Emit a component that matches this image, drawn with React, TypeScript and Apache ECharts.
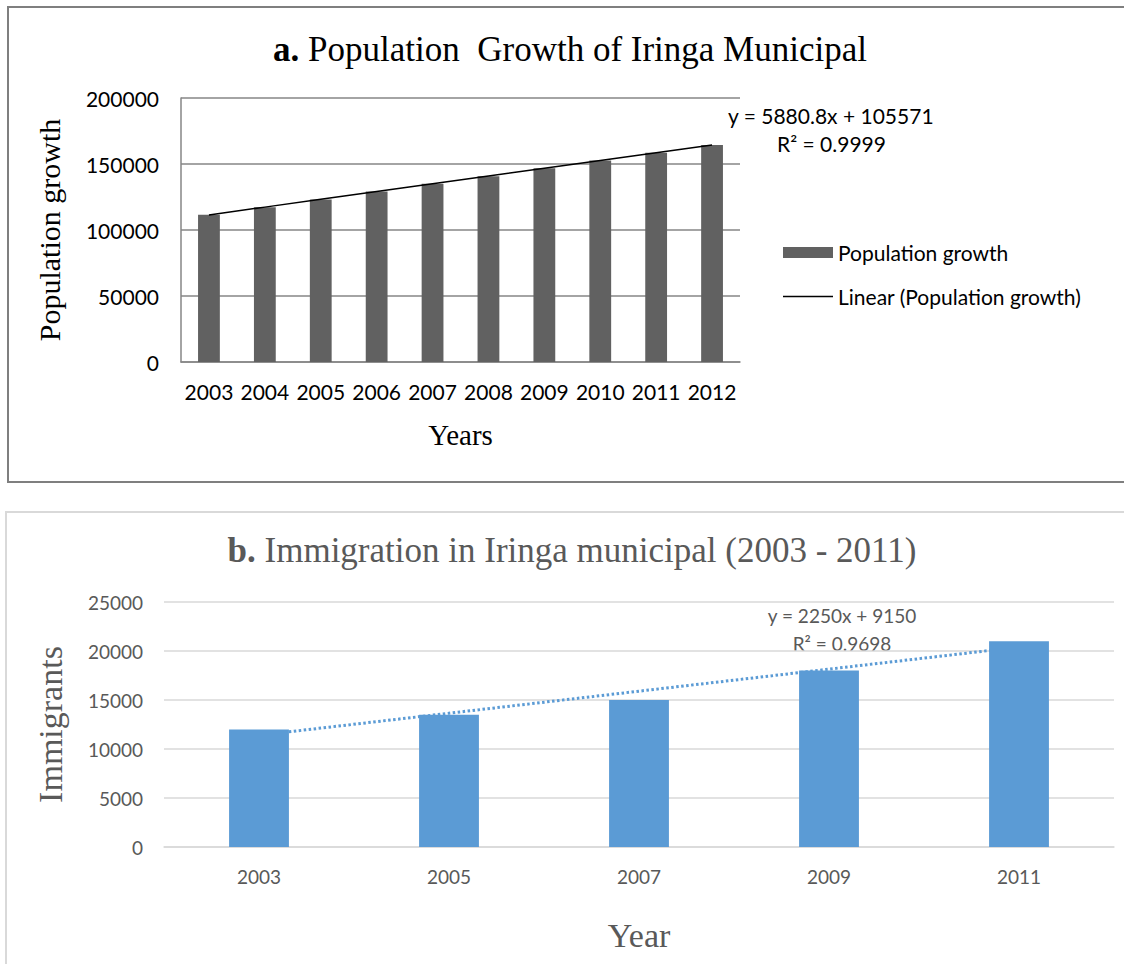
import React, { useEffect, useRef } from "react";
import * as echarts from "echarts";

// Panel a: Population growth of Iringa Municipal
const yearsA = ["2003", "2004", "2005", "2006", "2007", "2008", "2009", "2010", "2011", "2012"];
const populationA = [111500, 117300, 123200, 129100, 135000, 140800, 146700, 152600, 158500, 164400];
const trendA = [111452, 117333, 123213, 129094, 134975, 140856, 146737, 152617, 158498, 164379];
const equationA = ["y = 5880.8x + 105571", "R² = 0.9999"];

// Panel b: Immigration in Iringa municipal
const yearsB = ["2003", "2005", "2007", "2009", "2011"];
const immigrantsB = [12000, 13500, 15000, 18000, 21000];
const trendB = [11400, 13650, 15900, 18150, 20400];
const equationB = ["y = 2250x + 9150", "R² = 0.9698"];

const SANS = "Lato, 'Open Sans', sans-serif";
const SERIF = "'Liberation Serif', 'Times New Roman', serif";
const plain = (v: number) => String(v);

export default function App() {
  const ref = useRef<HTMLDivElement>(null);

  useEffect(() => {
    document.body.style.margin = "0";
    if (!ref.current) return;
    const chart = echarts.init(ref.current, null, { renderer: "svg" });
    const option: any = {
      animation: false,
      backgroundColor: "#ffffff",
      grid: [
        { left: 181, right: 384, top: 98, bottom: 602, containLabel: false },
        { left: 164, right: 10, top: 602, bottom: 117, containLabel: false },
      ],
      legend: {
        data: [
          { name: "Population growth", icon: "rect" },
          { name: "Linear (Population growth)", icon: "path://M0,0 L50,0 L50,1.5 L0,1.5 Z" },
        ],
        orient: "vertical",
        left: 778,
        top: 237,
        itemWidth: 50,
        itemHeight: 11,
        itemGap: 23,
        symbolKeepAspect: true,
        textStyle: { fontFamily: SANS, fontSize: 21, color: "#000" },
        selectedMode: false,
      },
      xAxis: [
        {
          type: "category",
          gridIndex: 0,
          data: yearsA,
          axisLine: { lineStyle: { color: "#868686", width: 1.5 } },
          axisTick: { show: false },
          axisLabel: { interval: 0, fontFamily: SANS, fontSize: 21, color: "#000", margin: 19 },
          name: "Years",
          nameLocation: "middle",
          nameGap: 58,
          nameTextStyle: { fontFamily: SERIF, fontSize: 29, color: "#000" },
        },
        {
          type: "category",
          gridIndex: 1,
          data: yearsB,
          axisLine: { lineStyle: { color: "#d9d9d9", width: 1.5 } },
          axisTick: { show: false },
          axisLabel: { interval: 0, fontFamily: SANS, fontSize: 19, color: "#595959", margin: 20 },
          name: "Year",
          nameLocation: "middle",
          nameGap: 71,
          nameTextStyle: { fontFamily: SERIF, fontSize: 34, color: "#595959" },
        },
      ],
      yAxis: [
        {
          type: "value",
          gridIndex: 0,
          min: 0,
          max: 200000,
          interval: 50000,
          axisLine: { show: true, lineStyle: { color: "#868686", width: 1.5 } },
          axisTick: { show: false },
          splitLine: { lineStyle: { color: "#868686", width: 1.5 } },
          axisLabel: { formatter: plain, fontFamily: SANS, fontSize: 21, color: "#000", margin: 22 },
          name: "Population growth",
          nameLocation: "middle",
          nameRotate: 90,
          nameGap: 117,
          nameTextStyle: { fontFamily: SERIF, fontSize: 30, color: "#000" },
        },
        {
          type: "value",
          gridIndex: 1,
          min: 0,
          max: 25000,
          interval: 5000,
          axisLine: { show: false },
          axisTick: { show: false },
          splitLine: { lineStyle: { color: "#d9d9d9", width: 1.5 } },
          axisLabel: { formatter: plain, fontFamily: SANS, fontSize: 19, color: "#595959", margin: 21 },
          name: "Immigrants",
          nameLocation: "middle",
          nameRotate: 90,
          nameGap: 97,
          nameTextStyle: { fontFamily: SERIF, fontSize: 34, color: "#595959" },
        },
      ],
      series: [
        {
          name: "Population growth",
          type: "bar",
          xAxisIndex: 0,
          yAxisIndex: 0,
          data: populationA,
          barWidth: "39%",
          itemStyle: { color: "#616161" },
          z: 2,
        },
        {
          name: "Linear (Population growth)",
          type: "line",
          xAxisIndex: 0,
          yAxisIndex: 0,
          data: trendA,
          symbol: "none",
          lineStyle: { color: "#000", width: 1.5 },
          itemStyle: { color: "#000" },
          z: 3,
        },
        {
          name: "Immigrants",
          type: "bar",
          xAxisIndex: 1,
          yAxisIndex: 1,
          data: immigrantsB,
          barWidth: "31.5%",
          itemStyle: { color: "#5b9bd5" },
          z: 3,
        },
        {
          name: "Linear (Immigrants)",
          type: "line",
          xAxisIndex: 1,
          yAxisIndex: 1,
          data: trendB,
          symbol: "none",
          lineStyle: { color: "#5b9bd5", width: 3, type: [2.5, 2.5] },
          z: 2,
        },
      ],
      graphic: [
        {
          type: "rect",
          shape: { x: 8, y: 7, width: 1130, height: 475 },
          style: { fill: "none", stroke: "#7f7f7f", lineWidth: 2 },
          silent: true,
        },
        {
          type: "rect",
          shape: { x: 6, y: 512, width: 1130, height: 470 },
          style: { fill: "none", stroke: "#d9d9d9", lineWidth: 2 },
          silent: true,
        },
        {
          type: "text",
          x: 570,
          y: 49,
          style: {
            text: "{b|a.} Population  Growth of Iringa Municipal",
            fontFamily: SERIF,
            fontSize: 35,
            fill: "#000",
            align: "center",
            verticalAlign: "middle",
            rich: { b: { fontFamily: SERIF, fontSize: 35, fontWeight: "bold", fill: "#000" } },
          },
        },
        {
          type: "text",
          x: 572,
          y: 550,
          style: {
            text: "{b|b.} Immigration in Iringa municipal (2003 - 2011)",
            fontFamily: SERIF,
            fontSize: 35,
            fill: "#595959",
            align: "center",
            verticalAlign: "middle",
            rich: { b: { fontFamily: SERIF, fontSize: 35, fontWeight: "bold", fill: "#595959" } },
          },
        },
        {
          type: "text",
          x: 728,
          y: 115,
          style: { text: equationA[0], fontFamily: SANS, fontSize: 21, fill: "#000", align: "left", verticalAlign: "middle" },
        },
        {
          type: "text",
          x: 777,
          y: 143,
          style: { text: equationA[1], fontFamily: SANS, fontSize: 21, fill: "#000", align: "left", verticalAlign: "middle" },
        },
        {
          type: "text",
          x: 842,
          y: 615,
          style: { text: equationB[0], fontFamily: SANS, fontSize: 19, fill: "#595959", align: "center", verticalAlign: "middle" },
        },
        {
          type: "text",
          x: 842,
          y: 643,
          style: { text: equationB[1], fontFamily: SANS, fontSize: 19, fill: "#595959", align: "center", verticalAlign: "middle" },
        },
      ],
    };
    chart.setOption(option);
    return () => chart.dispose();
  }, []);

  return <div ref={ref} style={{ width: 1124, height: 964 }} />;
}
